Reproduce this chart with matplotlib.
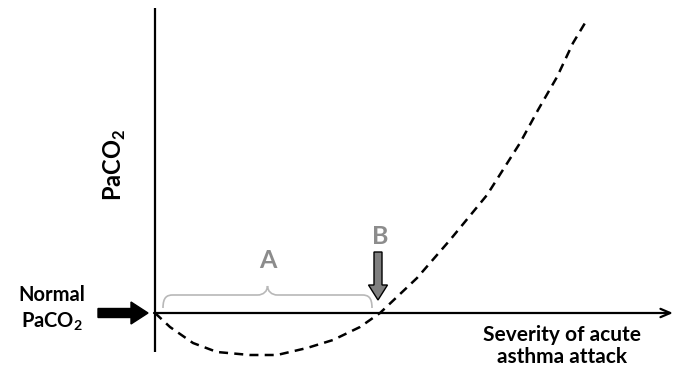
import matplotlib

matplotlib.use("Agg")
import matplotlib.pyplot as plt
import numpy as np
from matplotlib.patches import FancyArrow
from matplotlib.path import Path
from matplotlib.patches import PathPatch

plt.rcParams["font.family"] = ["Lato", "DejaVu Sans"]

# schematic PaCO2 response vs. attack severity (arbitrary units, origin = normal PaCO2)
severity = [0, 15, 38, 62, 95, 122, 152, 178, 205, 225, 262, 295, 332, 365, 383, 402, 418, 430]
paco2 = [0, -14, -30, -39, -42, -42, -35, -27, -14, 0, 35, 73, 118, 170, 203, 236, 270, 290]

brace_span = (8, 217)
label_a = "A"
label_b = "B"
normal_label = "Normal\nPaCO$_\\mathregular{2}$"
y_label = "PaCO$_\\mathregular{2}$"
x_label = "Severity of acute\nasthma attack"

fig = plt.figure(figsize=(6.83, 3.81), dpi=100)
ax = fig.add_axes([0, 0, 1, 1])
ax.set_xlim(-155, 528)
ax.set_ylim(-68, 313)
ax.axis("off")

# axes: vertical line and horizontal arrow
ax.plot([0, 0], [-39, 305], color="black", lw=1.6, solid_capstyle="butt")
ax.annotate("", xy=(518, 0), xytext=(-1, 0),
            arrowprops=dict(arrowstyle="->,head_length=0.7,head_width=0.3", lw=1.6, color="black",
                            shrinkA=0, shrinkB=0))

# dashed response curve
ax.plot(severity, paco2, color="black", lw=1.8, dashes=(3.6, 2.5))

# "Normal PaCO2" arrow
ax.add_patch(FancyArrow(-57, 0, 50, 0, width=9, head_width=22, head_length=17,
                        length_includes_head=True, color="black"))
ax.text(-103, 4, normal_label, ha="center", va="center", fontsize=14.5,
        fontweight="bold", linespacing=1.3)

ax.text(-40, 148, y_label, rotation=90, ha="center", va="center", fontsize=17, fontweight="bold")
ax.text(407, -33, x_label, ha="center", va="center", fontsize=15, fontweight="bold", linespacing=1.15)

# curly brace marking region A
x0, x1 = brace_span
xm = (x0 + x1) / 2
verts = [(x0, 5), (x0, 16), (x0 + 4, 18), (x0 + 10, 18),
         (xm - 10, 18), (xm - 4, 18), (xm, 22), (xm, 27),
         (xm, 22), (xm + 4, 18), (xm + 10, 18),
         (x1 - 10, 18), (x1 - 4, 18), (x1, 16), (x1, 5)]
codes = [Path.MOVETO, Path.CURVE4, Path.CURVE4, Path.CURVE4,
         Path.LINETO, Path.CURVE4, Path.CURVE4, Path.CURVE4,
         Path.CURVE4, Path.CURVE4, Path.CURVE4,
         Path.LINETO, Path.CURVE4, Path.CURVE4, Path.CURVE4]
ax.add_patch(PathPatch(Path(verts, codes), fill=False, edgecolor="#b8b8b8", lw=1.2))
ax.text(xm, 53, label_a, ha="center", va="center", fontsize=18, fontweight="bold", color="#8c8c8c")

# arrow B pointing at the crossing point
ax.add_patch(FancyArrow(223, 61, 0, -48, width=8, head_width=19, head_length=15,
                        length_includes_head=True, facecolor="#7f7f7f", edgecolor="black", lw=1.0))
ax.text(225, 77, label_b, ha="center", va="center", fontsize=18, fontweight="bold", color="#8c8c8c")

fig.savefig("out.png", dpi=100)
